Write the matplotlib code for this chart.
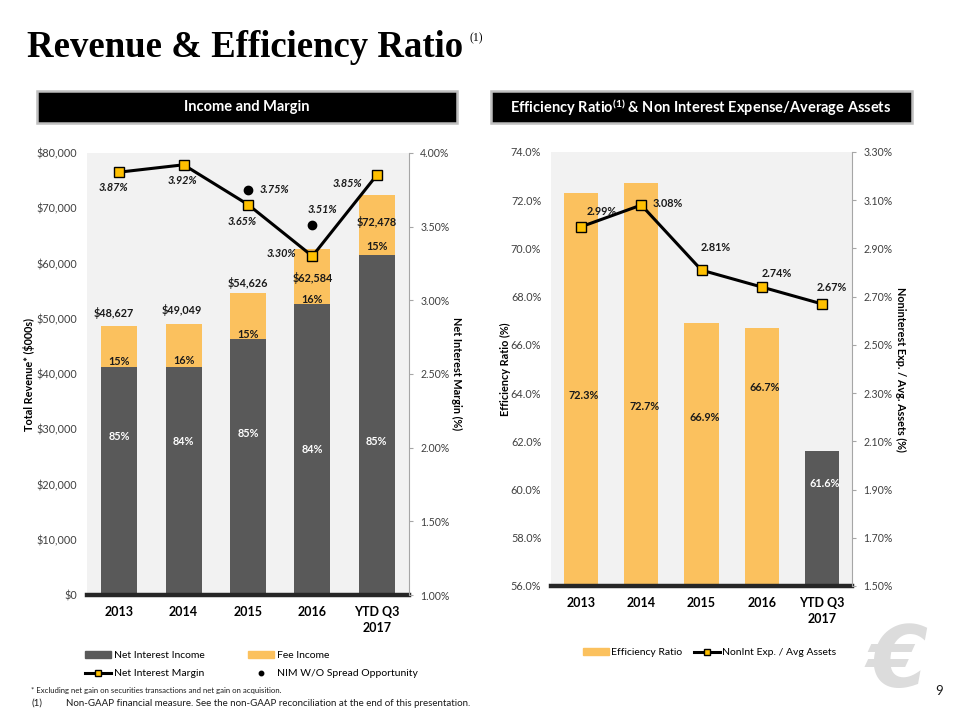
import matplotlib
matplotlib.use('Agg')
import matplotlib.pyplot as plt
from matplotlib.lines import Line2D
from matplotlib.patches import Patch, Rectangle
from matplotlib.ticker import FuncFormatter, FixedLocator
import numpy as np

# ---------------- data ----------------
categories = ['2013', '2014', '2015', '2016', 'YTD Q3\n2017']
total_revenue = [48627, 49049, 54626, 62584, 72478]
net_interest_income = [41300, 41200, 46400, 52600, 61600]
fee_income = [7327, 7849, 8226, 9984, 10878]
nii_pct = ['85%', '84%', '85%', '84%', '85%']
fee_pct = ['15%', '16%', '15%', '16%', '15%']
nim = [3.87, 3.92, 3.65, 3.30, 3.85]
nim_wo_spread = [np.nan, np.nan, 3.75, 3.51, np.nan]
efficiency_ratio = [72.3, 72.7, 66.9, 66.7, 61.6]
nonint_exp_avg_assets = [2.99, 3.08, 2.81, 2.74, 2.67]
left_ticks = [0, 10000, 20000, 30000, 40000, 50000, 60000, 70000, 80000]
nim_ticks = [1.0, 1.5, 2.0, 2.5, 3.0, 3.5, 4.0]
eff_ticks = [56, 58, 60, 62, 64, 66, 68, 70, 72, 74]
ne_ticks = [1.5, 1.7, 1.9, 2.1, 2.3, 2.5, 2.7, 2.9, 3.1, 3.3]

# ---------------- style ----------------
FONT = ['Lato', 'DejaVu Sans']
plt.rcParams['font.family'] = FONT
plt.rcParams['mathtext.fontset'] = 'custom'
plt.rcParams['mathtext.rm'] = 'Lato'
plt.rcParams['mathtext.bf'] = 'Lato:bold'
plt.rcParams['mathtext.default'] = 'bf'

DARK = '#595959'
GOLD = '#fbc15e'
MARK = '#ffc000'
BG = '#f2f2f2'
TICKC = '#404040'
LBL = 7.8

W, H = 960, 720
fig = plt.figure(figsize=(9.6, 7.2), dpi=100)


def rect(x0, y0, x1, y1):
    return [x0 / W, 1 - y1 / H, (x1 - x0) / W, (y1 - y0) / H]


def fx(px):
    return px / W


def fy(py):
    return 1 - py / H


def style_base(ax):
    ax.set_facecolor(BG)
    for s in ['top', 'left', 'right']:
        ax.spines[s].set_visible(False)
    ax.spines['bottom'].set_linewidth(3.2)
    ax.spines['bottom'].set_color('#262626')
    ax.tick_params(axis='y', length=0, pad=7, labelsize=7.8, labelcolor=TICKC)
    ax.tick_params(axis='x', length=0, pad=8, labelsize=9)
    for lab in ax.get_xticklabels():
        lab.set_fontweight('bold')
        lab.set_linespacing(1.4)


def style_twin(ax):
    for s in ['top', 'left', 'bottom']:
        ax.spines[s].set_visible(False)
    ax.spines['right'].set_color('#a6a6a6')
    ax.spines['right'].set_linewidth(0.8)
    ax.tick_params(axis='y', direction='out', length=3, width=0.8, color='#a6a6a6',
                   pad=5, labelsize=7.6, labelcolor=TICKC)


x = np.arange(len(categories))

# ---------------- left chart ----------------
ax1 = fig.add_axes(rect(87, 153, 409, 595))
ax1.bar(x, net_interest_income, width=0.56, color=DARK, zorder=2)
ax1.bar(x, fee_income, bottom=net_interest_income, width=0.56, color=GOLD, zorder=2)
ax1.set_xlim(-0.5, 4.5)
ax1.set_ylim(0, 80000)
ax1.yaxis.set_major_locator(FixedLocator(left_ticks))
ax1.yaxis.set_major_formatter(FuncFormatter(lambda v, p: f'${v:,.0f}'))
ax1.set_xticks(x)
ax1.set_xticklabels(categories)
style_base(ax1)

# labels on bars
tot_offsets = [(-4, 9.5), (-1, 10), (0, 7), (0, -21), (0, -19.5)]
for i, (t, off) in enumerate(zip(total_revenue, tot_offsets)):
    top = net_interest_income[i] + fee_income[i]
    ax1.annotate(f'${t:,.0f}', (x[i], top), xytext=off, textcoords='offset points',
                 ha='center', va='center', fontsize=LBL, fontweight='bold', color='#1a1a1a')
fee_label_y = [42300, 42500, 47100, 53500, 63100]
for i, lab in enumerate(fee_pct):
    ax1.text(x[i], fee_label_y[i], lab, ha='center', va='center', fontsize=LBL,
             fontweight='bold', color='#1a1a1a')
nii_label_y = [28600, 27700, 29300, 26400, 27700]
for i, lab in enumerate(nii_pct):
    ax1.text(x[i], nii_label_y[i], lab, ha='center', va='center', fontsize=LBL,
             fontweight='bold', color='white')

fig.text(fx(29), fy(374), 'Total Revenue* ($000s)', rotation=90, ha='center', va='center',
         fontsize=LBL, fontweight='bold')

ax2 = ax1.twinx()
ax2.set_ylim(1.0, 4.0)
ax2.yaxis.set_major_locator(FixedLocator(nim_ticks))
ax2.yaxis.set_major_formatter(FuncFormatter(lambda v, p: f'{v:.2f}%'))
style_twin(ax2)
ax2.plot(x, nim, color='black', lw=2.2, marker='s', ms=6.5, mfc=MARK, mec='black',
         mew=1.0, zorder=5)
ax2.plot(x, nim_wo_spread, ls='none', marker='o', ms=6, color='black', zorder=5)
nim_offsets = [(-4, -11), (-1, -11), (-4, -12.5), (-22, 2), (-21, -6)]
for i, (v, off) in enumerate(zip(nim, nim_offsets)):
    ax2.annotate(f'{v:.2f}%', (x[i], v), xytext=off, textcoords='offset points',
                 ha='center', va='center', fontsize=LBL, fontweight='bold',
                 fontstyle='italic', color='#1a1a1a')
wo_offsets = {2: (19, 0), 3: (7, 11)}
for i, v in enumerate(nim_wo_spread):
    if not np.isnan(v):
        ax2.annotate(f'{v:.2f}%', (x[i], v), xytext=wo_offsets[i], textcoords='offset points',
                     ha='center', va='center', fontsize=LBL, fontweight='bold',
                     fontstyle='italic', color='#1a1a1a')
fig.text(fx(457), fy(374), 'Net Interest Margin (%)', rotation=270, ha='center', va='center',
         fontsize=LBL, fontweight='bold')

# legend left
hl = [Patch(color=DARK, label='Net Interest Income'),
      Line2D([], [], color='black', lw=2.2, marker='s', ms=4, mfc=MARK, mec='black',
             label='Net Interest Margin'),
      Patch(color=GOLD, label='Fee Income'),
      Line2D([], [], color='black', ls='none', marker='o', ms=3.2,
             label='NIM W/O Spread Opportunity')]
fig.legend(handles=hl, ncol=2, loc='upper left', bbox_to_anchor=(fx(80), fy(646)),
           frameon=False, fontsize=7.5, handlelength=2.5, handleheight=0.55,
           handletextpad=0.3, columnspacing=4.1, labelspacing=0.85, borderpad=0)

# ---------------- right chart ----------------
ax3 = fig.add_axes(rect(551, 152, 852, 586))
bar_colors = [GOLD, GOLD, GOLD, GOLD, DARK]
ax3.bar(x, efficiency_ratio, width=0.57, color=bar_colors, zorder=2)
ax3.set_xlim(-0.5, 4.5)
ax3.set_ylim(56, 74)
ax3.yaxis.set_major_locator(FixedLocator(eff_ticks))
ax3.yaxis.set_major_formatter(FuncFormatter(lambda v, p: f'{v:.1f}%'))
ax3.set_xticks(x)
ax3.set_xticklabels(categories)
style_base(ax3)
eff_label_y = [63.9, 63.45, 63.0, 64.25, 60.25]
eff_label_c = ['#1a1a1a'] * 4 + ['white']
for i, v in enumerate(efficiency_ratio):
    ax3.text(x[i] + 0.05, eff_label_y[i], f'{v:.1f}%', ha='center', va='center', fontsize=LBL,
             fontweight='bold', color=eff_label_c[i])
fig.text(fx(505), fy(369), 'Efficiency Ratio (%)', rotation=90, ha='center', va='center',
         fontsize=LBL, fontweight='bold')

ax4 = ax3.twinx()
ax4.set_ylim(1.5, 3.3)
ax4.yaxis.set_major_locator(FixedLocator(ne_ticks))
ax4.yaxis.set_major_formatter(FuncFormatter(lambda v, p: f'{v:.2f}%'))
style_twin(ax4)
ax4.plot(x, nonint_exp_avg_assets, color='black', lw=2.2, marker='s', ms=6.5, mfc=MARK,
         mec='black', mew=1.0, zorder=5)
ne_offsets = [(15, 11), (19, 1), (10, 16), (11, 10), (7, 12)]
for i, (v, off) in enumerate(zip(nonint_exp_avg_assets, ne_offsets)):
    ax4.annotate(f'{v:.2f}%', (x[i], v), xytext=off, textcoords='offset points',
                 ha='center', va='center', fontsize=LBL, fontweight='bold', color='#1a1a1a')
fig.text(fx(901), fy(369), 'Noninterest Exp. / Avg. Assets (%)', rotation=270, ha='center',
         va='center', fontsize=LBL, fontweight='bold')

hr = [Patch(color=GOLD, label='Efficiency Ratio'),
      Line2D([], [], color='black', lw=2.2, marker='s', ms=4, mfc=MARK, mec='black',
             label='NonInt Exp. / Avg Assets')]
fig.legend(handles=hr, ncol=2, loc='upper left', bbox_to_anchor=(fx(578), fy(643)),
           frameon=False, fontsize=7.5, handlelength=2.5, handleheight=0.55,
           handletextpad=0.15, columnspacing=1.2, borderpad=0)

# ---------------- headers / title / notes ----------------
for (x0, x1) in [(37, 457), (491, 912)]:
    fig.patches.append(Rectangle((fx(x0), fy(123)), (x1 - x0) / W, 32 / H, transform=fig.transFigure,
                                 facecolor='black', edgecolor='#bfbfbf', lw=1.8, zorder=1))
fig.text(fx(247), fy(107.5), 'Income and Margin', ha='center', va='center', color='white',
         fontsize=10.5, fontweight='bold')
fig.text(fx(701), fy(107.5), r'Efficiency Ratio$^{(1)}$ & Non Interest Expense/Average Assets',
         ha='center', va='center', color='white', fontsize=10.5, fontweight='bold')

fig.text(fx(27), fy(57), 'Revenue & Efficiency Ratio', ha='left', va='baseline',
         fontsize=26.5, fontweight='bold', family=['Liberation Serif', 'DejaVu Serif'])
fig.text(fx(469), fy(38), '(1)', ha='left', va='center', fontsize=8.5,
         family=['Liberation Serif', 'DejaVu Serif'])

fig.text(fx(31), fy(691), '* Excluding net gain on securities transactions and net gain on acquisition.',
         ha='left', va='center', fontsize=5.6, color='#1a1a1a')
fig.text(fx(31), fy(703), '(1)', ha='left', va='center', fontsize=7, color='#1a1a1a')
fig.text(fx(66), fy(703), 'Non-GAAP financial measure. See the non-GAAP reconciliation at the end of this presentation.',
         ha='left', va='center', fontsize=7, color='#1a1a1a')

fig.text(fx(897), fy(664), '€', ha='center', va='center', fontsize=62, fontweight='bold',
         fontstyle='italic', color='#dcdcdc', family=['DejaVu Sans'], zorder=0)
fig.text(fx(939), fy(691), '9', ha='center', va='center', fontsize=9.5, color='#1a1a1a')

fig.savefig('out.png', dpi=100)
